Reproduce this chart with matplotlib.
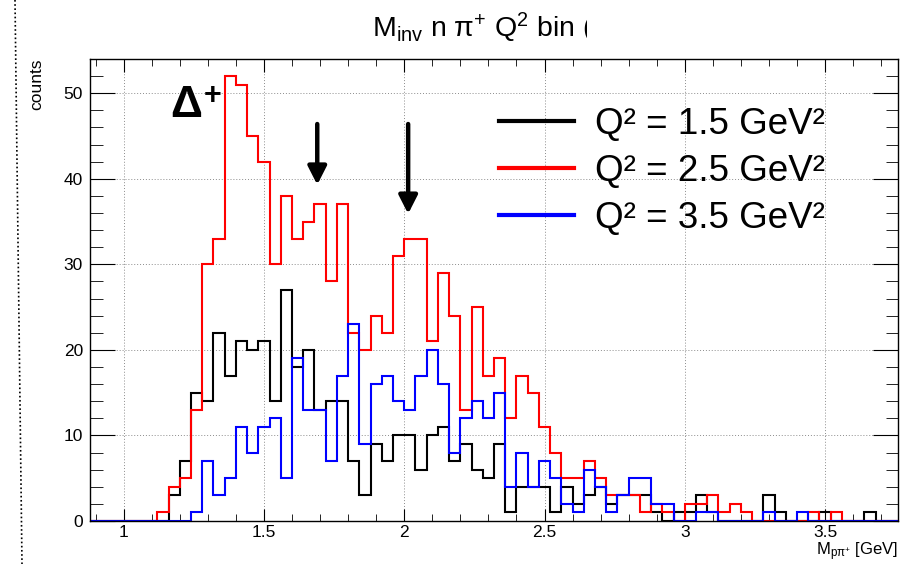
import matplotlib
matplotlib.use("Agg")
import matplotlib.pyplot as plt
from matplotlib.lines import Line2D
from matplotlib.transforms import Bbox
import numpy as np

plt.rcParams['font.family'] = ['Liberation Sans', 'DejaVu Sans']
plt.rcParams['mathtext.fontset'] = 'custom'
plt.rcParams['mathtext.rm'] = 'Liberation Sans'
plt.rcParams['mathtext.it'] = 'Liberation Sans:italic'
plt.rcParams['mathtext.bf'] = 'Liberation Sans:bold'

# binning of the histograms (GeV)
bin_lo = 0.88
bin_width = 0.04
n_bins = 72

# counts per bin
q2_15 = [0, 0, 0, 0, 0, 0, 0, 3, 7, 15, 14, 22, 17, 21, 20, 21, 14, 27,
         18, 20, 13, 14, 14, 7, 3, 9, 7, 10, 10, 6, 10, 11, 7, 9, 6, 5,
         9, 1, 4, 4, 4, 1, 4, 2, 3, 4, 2, 3, 3, 3, 1, 0, 1, 1,
         3, 1, 0, 0, 0, 0, 3, 1, 0, 0, 0, 1, 0, 0, 0, 1, 0, 0]
q2_25 = [0, 0, 0, 0, 0, 0, 1, 4, 5, 13, 30, 33, 52, 51, 45, 42, 30, 38,
         33, 35, 37, 28, 37, 22, 20, 24, 22, 31, 33, 33, 21, 29, 24, 13, 25, 17,
         19, 12, 17, 15, 11, 8, 5, 5, 7, 5, 3, 3, 3, 1, 2, 1, 0, 2,
         2, 3, 1, 2, 1, 0, 0, 0, 0, 0, 1, 0, 1, 0, 0, 0, 0, 0]
q2_35 = [0, 0, 0, 0, 0, 0, 0, 0, 0, 1, 7, 3, 5, 11, 8, 11, 12, 5,
         19, 13, 13, 7, 17, 23, 9, 16, 17, 14, 13, 17, 20, 16, 8, 12, 14, 12,
         15, 4, 8, 4, 7, 5, 2, 1, 6, 4, 1, 3, 5, 5, 2, 2, 0, 0,
         1, 1, 0, 0, 0, 0, 1, 0, 0, 1, 0, 0, 0, 0, 0, 0, 0, 0]

series_labels = ['Q² = 1.5 GeV²', 'Q² = 2.5 GeV²', 'Q² = 3.5 GeV²']
series_colors = ['black', 'red', 'blue']

edges = bin_lo + bin_width * np.arange(n_bins + 1)

W, H = 907, 564
fig = plt.figure(figsize=(W / 100, H / 100), dpi=100)
ax = fig.add_axes([90 / W, 1 - 521 / H, (898 - 90) / W, (521 - 59) / H])

for vals, col in zip([q2_15, q2_25, q2_35], series_colors):
    ax.stairs(vals, edges, color=col, lw=1.5, baseline=0)

ax.set_xlim(edges[0], edges[-1])
ax.set_ylim(0, 54)

ax.set_xticks([1, 1.5, 2, 2.5, 3, 3.5])
ax.set_xticklabels(['1', '1.5', '2', '2.5', '3', '3.5'])
ax.set_xticks(np.arange(0.9, 3.76, 0.1), minor=True)
ax.set_yticks([0, 10, 20, 30, 40, 50])
ax.set_yticks(np.arange(0, 54, 2), minor=True)

ax.tick_params(which='both', direction='in', top=True, right=True, labelsize=12.5)
ax.tick_params(axis='x', which='major', length=9, pad=3)
ax.tick_params(axis='x', which='minor', length=5)
ax.tick_params(axis='y', which='major', length=18, pad=5)
ax.tick_params(axis='y', which='minor', length=9)
ax.grid(True, which='major', color='0.55', lw=0.7, linestyle=(0, (1, 2)))
ax.set_axisbelow(True)
for s in ax.spines.values():
    s.set_linewidth(1.0)

ax.set_ylabel('counts', loc='top', fontsize=12.5)
ax.yaxis.set_label_coords(-0.057, 1.0)
ax.set_xlabel(r'M$_{\mathrm{p\pi^{+}}}$ [GeV]', loc='right', fontsize=12)
ax.xaxis.set_label_coords(1.0, -0.043)

# Delta(1232) label and arrows
fig.text(170 / W, 1 - 117 / H, 'Δ', fontsize=32, fontweight='bold', ha='left', va='baseline')
fig.text(204 / W, 1 - 104 / H, '+', fontsize=22, fontweight='bold', ha='left', va='baseline')
for xa, ytip in [(1.69, 39.3), (2.014, 35.9)]:
    ax.annotate('', xy=(xa, ytip), xytext=(xa, 46.4),
                arrowprops=dict(arrowstyle='-|>,head_length=0.55,head_width=0.28',
                                lw=3.2, color='black', shrinkA=0, shrinkB=0,
                                mutation_scale=20))

# legend
handles = [Line2D([], [], color=c, lw=3) for c in series_colors]
ax.legend(handles, series_labels, loc='upper left', bbox_to_anchor=(499 / W, 1 - 107 / H),
          bbox_transform=fig.transFigure, frameon=False, fontsize=26.5,
          handlelength=2.05, handletextpad=0.55, labelspacing=0.33, borderpad=0,
          borderaxespad=0)

# title (cut off on the right as in the original)
t = fig.text(372 / W, 1 - 37 / H, r'M$_{\mathrm{inv}}$ n π$^{+}$ Q$^{2}$ bin (', fontsize=20.5,
             ha='left', va='baseline')
t.set_clip_box(Bbox.from_extents(0, 0, 587, H))

# dotted border of neighbouring pad
fig.add_artist(Line2D([15 / W, 22 / W], [1, 0], color='black', lw=1.2,
                      linestyle=(0, (1, 1.5)), transform=fig.transFigure))

fig.savefig('out.png', dpi=100)
